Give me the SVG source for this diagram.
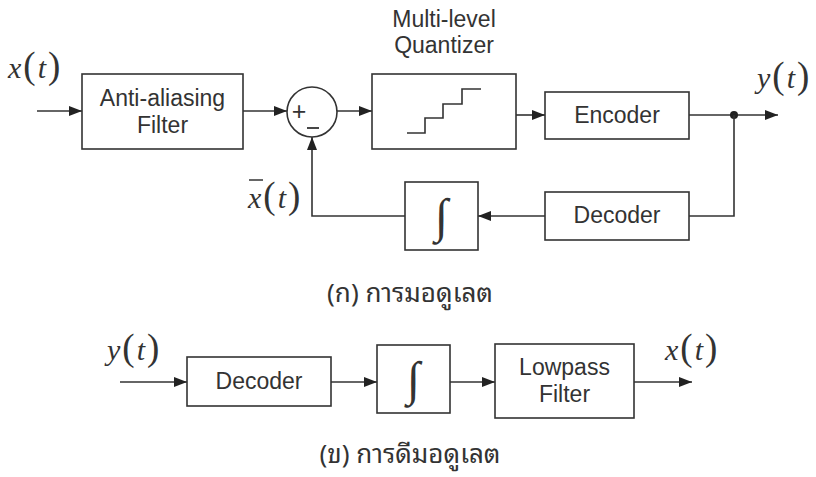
<svg xmlns="http://www.w3.org/2000/svg" width="816" height="477" viewBox="0 0 816 477">
<style>
.box{fill:#fff;stroke:#333;stroke-width:1.6}
.lbl{font-family:"Liberation Sans",Arial,sans-serif;font-size:23px;fill:#333;text-anchor:middle}
.wire{fill:none;stroke:#333;stroke-width:1.6}
.math{font-family:"Liberation Serif","Times New Roman",serif;fill:#333}
.v{font-style:italic;font-size:30px}
.p{font-size:37px}
.int{font-family:"Liberation Serif","DejaVu Serif",serif;font-size:48px;fill:#333;text-anchor:middle}
.cap{font-family:"Noto Sans Thai Looped","Loma","Noto Serif Thai","Noto Sans Thai","DejaVu Sans",sans-serif;font-size:26px;fill:#333;text-anchor:middle}
</style>
<defs>
<marker id="ah" markerUnits="userSpaceOnUse" markerWidth="13" markerHeight="10" refX="13" refY="5" orient="auto">
<path d="M0,0 L13,5 L0,10 z" fill="#222"/>
</marker>
</defs>
<rect width="816" height="477" fill="#fff"/>

<g id="connectors">
<path class="wire" d="M37,111 H82" marker-end="url(#ah)"/>
<path class="wire" d="M243,111 H287" marker-end="url(#ah)"/>
<path class="wire" d="M337,111 H372" marker-end="url(#ah)"/>
<path class="wire" d="M516,115 H545" marker-end="url(#ah)"/>
<path class="wire" d="M689,115 H778" marker-end="url(#ah)"/>
<circle cx="734" cy="115" r="4" fill="#222"/>
<path class="wire" d="M734,115 V216 H689"/>
<path class="wire" d="M545,216 H478" marker-end="url(#ah)"/>
<path class="wire" d="M405,216 H312 V137" marker-end="url(#ah)"/>
<path class="wire" d="M120,382 H187" marker-end="url(#ah)"/>
<path class="wire" d="M331,382 H377" marker-end="url(#ah)"/>
<path class="wire" d="M450,382 H495" marker-end="url(#ah)"/>
<path class="wire" d="M634,382 H692" marker-end="url(#ah)"/>
</g>

<g id="x_in">
<text class="math" x="8" y="78"><tspan class="v">x</tspan><tspan class="p" dx="2">(</tspan><tspan class="v" dx="2">t</tspan><tspan class="p" dx="2">)</tspan></text>
</g>

<g id="antialias">
<rect class="box" x="82" y="74" width="161" height="75"/>
<text class="lbl" x="162.5" y="106">Anti-aliasing</text>
<text class="lbl" x="162.5" y="133">Filter</text>
</g>

<g id="summer">
<circle cx="312" cy="112" r="25" fill="#fff" stroke="#333" stroke-width="1.6"/>
<text class="lbl" x="299" y="120" style="font-size:25px">+</text>
<path d="M307,128 H319" stroke="#333" stroke-width="1.8"/>
</g>

<g id="quantizer">
<text class="lbl" x="444" y="27">Multi-level</text>
<text class="lbl" x="444" y="53">Quantizer</text>
<rect class="box" x="372" y="74" width="144" height="75"/>
<path class="wire" d="M407,133 H425 V118 H443 V104 H462 V89 H481"/>
</g>

<g id="encoder">
<rect class="box" x="545" y="92" width="144" height="47"/>
<text class="lbl" x="617" y="123">Encoder</text>
</g>

<g id="y_out">
<text class="math" x="757" y="88"><tspan class="v">y</tspan><tspan class="p" dx="2">(</tspan><tspan class="v" dx="2">t</tspan><tspan class="p" dx="2">)</tspan></text>
</g>

<g id="decoder_fb">
<rect class="box" x="545" y="192" width="144" height="48"/>
<text class="lbl" x="617" y="223">Decoder</text>
</g>

<g id="integrator_fb">
<rect class="box" x="405" y="182" width="73" height="68"/>
<text class="int" x="441.5" y="232">∫</text>
</g>

<g id="xbar">
<text class="math" x="248" y="208"><tspan class="v">x</tspan><tspan class="p" dx="2">(</tspan><tspan class="v" dx="2">t</tspan><tspan class="p" dx="2">)</tspan></text>
<path d="M249,180 H263" stroke="#333" stroke-width="1.5"/>
</g>

<g id="caption_a">
<text class="cap" x="410" y="302">(ก) การมอดูเลต</text>
</g>

<g id="y_in">
<text class="math" x="107" y="360"><tspan class="v">y</tspan><tspan class="p" dx="2">(</tspan><tspan class="v" dx="2">t</tspan><tspan class="p" dx="2">)</tspan></text>
</g>

<g id="decoder">
<rect class="box" x="187" y="357" width="144" height="49"/>
<text class="lbl" x="259" y="389">Decoder</text>
</g>

<g id="integrator">
<rect class="box" x="377" y="345" width="73" height="68"/>
<text class="int" x="413.5" y="395">∫</text>
</g>

<g id="lowpass">
<rect class="box" x="495" y="344" width="139" height="74"/>
<text class="lbl" x="564.5" y="375">Lowpass</text>
<text class="lbl" x="564.5" y="402">Filter</text>
</g>

<g id="x_out">
<text class="math" x="665" y="360"><tspan class="v">x</tspan><tspan class="p" dx="2">(</tspan><tspan class="v" dx="2">t</tspan><tspan class="p" dx="2">)</tspan></text>
</g>

<g id="caption_b">
<text class="cap" x="410" y="463">(ข) การดีมอดูเลต</text>
</g>
</svg>
